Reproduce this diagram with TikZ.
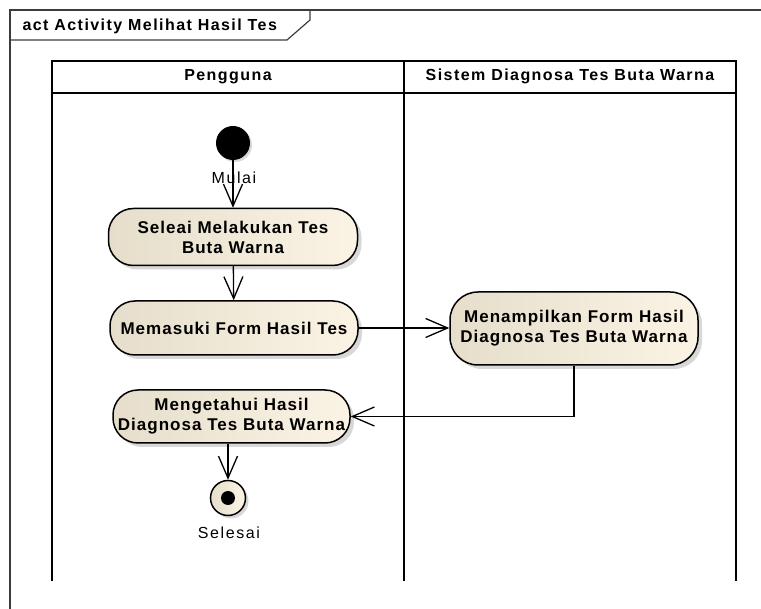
\documentclass[tikz,border=0pt]{standalone}
\usepackage{fontspec}
\setmainfont{Liberation Sans}
\newfontfamily\lanefont[LetterSpace=9]{Liberation Sans}
\newfontfamily\actfont[LetterSpace=6]{Liberation Sans}
\newfontfamily\capfont[LetterSpace=10]{Liberation Sans}
\usepackage{tikz}
\usetikzlibrary{arrows.meta}
\usetikzlibrary{shadows}
\usetikzlibrary{calc}
\usetikzlibrary{positioning}

\definecolor{actleft}{HTML}{E6DECB}
\definecolor{actright}{HTML}{FBF4E5}
\definecolor{framegray}{HTML}{3C3C3C}

\begin{document}
\begin{tikzpicture}[x=1pt, y=-1pt, >={Straight Barb[length=22pt,width=19pt]},
  action/.style={draw, line width=1.5pt, rounded corners=25pt, left color=actleft, right color=actright,
    drop shadow={shadow xshift=4pt, shadow yshift=-4pt, fill=black!30},
    font=\actfont\bfseries\fontsize{17}{20}\selectfont, align=center, inner sep=0pt},
  lanetitle/.style={font=\lanefont\bfseries\fontsize{16}{18}\selectfont, anchor=base},
  caption/.style={font=\capfont\fontsize{16}{18}\selectfont, anchor=base},
  flow/.style={->, line width=1.3pt}]
\useasboundingbox (0,0) rectangle (761,609);

%frame
\begin{scope}[framegray, line width=1.2pt]
  \draw (10,609) -- (10,10) -- (761,10);
  \draw (10,40) -- (287,40) -- (310,20) -- (310,10);
\end{scope}
\node[lanetitle, anchor=base west] (title) at (19,31) {act Activity Melihat Hasil Tes};

%swimlanes
\begin{scope}[line width=2pt]
  \draw (52,581) -- (52,61) -- (736,61) -- (736,581);
  \draw (404,61) -- (404,581);
  \draw (52,93) -- (736,93);
\end{scope}
\node[lanetitle] (pengguna) at (228,81) {Pengguna};
\node[lanetitle] (sistem) at (570,81) {Sistem Diagnosa Tes Buta Warna};

%activities
\node[circle, fill=black, minimum size=34pt, drop shadow={shadow xshift=2pt, shadow yshift=-2pt, fill=black!30}] (start) at (233,143) {};
\node[caption] (mulai) at (234,184) {Mulai};
\node[action, minimum width=249pt, minimum height=57pt] (a1) at (233,237) {Seleai Melakukan Tes\\Buta Warna};
\node[action, minimum width=248pt, minimum height=54pt] (a2) at (234,328) {Memasuki Form Hasil Tes};
\node[action, minimum width=248pt, minimum height=73pt, rounded corners=28pt] (a3) at (574,328.5) {Menampilkan Form Hasil\\Diagnosa Tes Buta Warna};
\node[action, minimum width=237pt, minimum height=53pt] (a4) at (231.5,416.5) {Mengetahui Hasil\\Diagnosa Tes Buta Warna};
\node[circle, draw, line width=1.5pt, left color=actleft, right color=actright, minimum size=35pt,
  drop shadow={shadow xshift=3pt, shadow yshift=-3pt, fill=black!30}] (fin) at (228,498) {};
\fill (fin.center) circle (7pt);
\node[caption] (selesai) at (229,539) {Selesai};

%flows
\draw[flow] (start) -- (a1);
\draw[flow] (a1) -- (a2);
\draw[flow] (a2.east) -- (a2.east -| a3.west);
\draw[flow] (a3.south) |- (a4.east);
\draw[flow] (a4.south -| fin) -- (fin);
\end{tikzpicture}
\end{document}
